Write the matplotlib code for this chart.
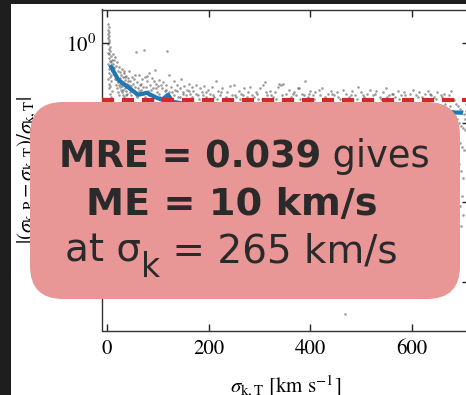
import matplotlib
matplotlib.use("Agg")
import matplotlib.pyplot as plt
import matplotlib.ticker as mticker
from matplotlib.patches import FancyBboxPatch, Rectangle
from matplotlib.transforms import IdentityTransform

# ---------------- data ----------------
# scatter points as (sigma_kT, relative error) pairs, grouped by region
pts_low_x = [
    (2, 1.75), (3, 1.6), (2, 1.48), (4, 1.38), (2, 1.3), (3, 1.22), (2, 1.15), (4, 1.08), (3, 1.02),
    (2, 0.96), (5, 0.9), (3, 0.85), (6, 0.8), (2, 0.76), (4, 0.72), (7, 0.68), (3, 0.64), (5, 0.6),
    (8, 0.57), (2, 0.54), (6, 0.5), (4, 0.47), (9, 0.45), (3, 0.42), (7, 0.4), (5, 0.37), (2, 0.35),
    (8, 0.33), (4, 0.31), (6, 0.29), (3, 0.27), (9, 0.25), (5, 0.23), (7, 0.21), (2, 0.2),
]
pts_rise = [
    (11, 0.72), (13, 0.62), (15, 0.66), (12, 0.55), (17, 0.52), (14, 0.48), (19, 0.58), (21, 0.45),
    (16, 0.42), (23, 0.5), (18, 0.38), (25, 0.43), (20, 0.35), (27, 0.4), (22, 0.32), (29, 0.47),
    (24, 0.3), (31, 0.37), (26, 0.28), (33, 0.42), (28, 0.26), (35, 0.34), (30, 0.24), (37, 0.39),
    (32, 0.22), (39, 0.31), (34, 0.21), (41, 0.36), (36, 0.27), (43, 0.44), (38, 0.25), (45, 0.33),
    (40, 0.23), (47, 0.29), (42, 0.2), (49, 0.38), (44, 0.27), (51, 0.31), (46, 0.24), (53, 0.35),
    (48, 0.22), (55, 0.28), (50, 0.26), (57, 0.77), (58, 0.32), (59, 0.21),
]
pts_mid = [
    (62, 0.4), (64, 0.3), (66, 0.26), (68, 0.35), (70, 0.23), (73, 0.82), (75, 0.37), (77, 0.28),
    (79, 0.33), (81, 0.25), (83, 0.42), (85, 0.3), (87, 0.22), (89, 0.36), (91, 0.27), (94, 0.46),
    (96, 0.31), (98, 0.24), (100, 0.29), (103, 0.34), (105, 0.21), (108, 0.27), (110, 0.32),
    (113, 0.25), (115, 0.3), (118, 0.79), (120, 0.22), (122, 0.4), (125, 0.28), (128, 0.24),
    (131, 0.33), (134, 0.26), (137, 0.3), (140, 0.21), (143, 0.27), (146, 0.35), (149, 0.24),
    (152, 0.29), (155, 0.22), (158, 0.26), (161, 0.31), (164, 0.23), (167, 0.28), (170, 0.25),
    (174, 0.3), (178, 0.22), (182, 0.27), (186, 0.24), (190, 0.29), (194, 0.21), (198, 0.26),
]
pts_flat = [
    (203, 0.23), (207, 0.28), (211, 0.21), (215, 0.33), (219, 0.25), (223, 0.22), (227, 0.27),
    (231, 0.2), (236, 0.24), (241, 0.29), (246, 0.22), (249, 0.3), (254, 0.21), (259, 0.25),
    (264, 0.23), (270, 0.27), (275, 0.21), (281, 0.28), (286, 0.22), (292, 0.24), (297, 0.2),
    (300, 0.27), (306, 0.3), (310, 0.32), (315, 0.22), (320, 0.25), (326, 0.21), (331, 0.24),
    (336, 0.28), (339, 0.31), (343, 0.3), (347, 0.31), (352, 0.23), (357, 0.26), (362, 0.21),
    (367, 0.24), (372, 0.22), (375, 0.27), (378, 0.27), (383, 0.23), (390, 0.335), (395, 0.21),
    (400, 0.25), (405, 0.22), (410, 0.24), (416, 0.26), (422, 0.27), (428, 0.21), (434, 0.23),
    (440, 0.25), (446, 0.22), (452, 0.24), (458, 0.2), (464, 0.26), (470, 0.23), (476, 0.21),
    (482, 0.25), (488, 0.22), (494, 0.28), (500, 0.24), (506, 0.21), (512, 0.23), (518, 0.26),
    (524, 0.22), (530, 0.25), (536, 0.21), (542, 0.24), (548, 0.27), (554, 0.22), (560, 0.23),
    (566, 0.21), (572, 0.25), (578, 0.22), (584, 0.24), (590, 0.2), (596, 0.23), (602, 0.26),
    (608, 0.22), (614, 0.24), (620, 0.21), (626, 0.23), (632, 0.25), (638, 0.22), (644, 0.21),
    (650, 0.24), (656, 0.22), (662, 0.23), (668, 0.2), (676, 0.25),
]
pts_dense = [
    (10, 0.62), (12, 0.5), (14, 0.41), (16, 0.35), (18, 0.3), (20, 0.27), (22, 0.24), (24, 0.22),
    (26, 0.36), (28, 0.31), (30, 0.29), (32, 0.26), (34, 0.45), (36, 0.38), (38, 0.22), (40, 0.28),
    (42, 0.33), (44, 0.3), (46, 0.2), (48, 0.26), (52, 0.24), (54, 0.4), (56, 0.22), (60, 0.27),
    (63, 0.25), (67, 0.31), (71, 0.28), (74, 0.21), (78, 0.39), (82, 0.22), (86, 0.26), (90, 0.2),
    (93, 0.33), (97, 0.27), (102, 0.23), (106, 0.3), (111, 0.21), (116, 0.26), (121, 0.24),
    (126, 0.2), (132, 0.22), (138, 0.25), (144, 0.21), (150, 0.23), (156, 0.2), (162, 0.25),
    (168, 0.21), (175, 0.23), (181, 0.2), (188, 0.22), (195, 0.24), (201, 0.2), (209, 0.22),
    (217, 0.2), (225, 0.24), (233, 0.21), (243, 0.2), (251, 0.22), (261, 0.2), (268, 0.22),
    (278, 0.24), (289, 0.21), (295, 0.23), (304, 0.2), (313, 0.24), (323, 0.22), (333, 0.2),
    (345, 0.22), (355, 0.2), (365, 0.23), (380, 0.2), (388, 0.22), (398, 0.23), (408, 0.2),
    (419, 0.22), (431, 0.2), (443, 0.23), (455, 0.21), (467, 0.2), (479, 0.22), (491, 0.2),
    (503, 0.22), (515, 0.2), (527, 0.23), (539, 0.2), (551, 0.21), (563, 0.23), (575, 0.2),
    (587, 0.22), (599, 0.2), (611, 0.21), (623, 0.2), (635, 0.23), (647, 0.2), (659, 0.21),
    (672, 0.22), (680, 0.2), (705, 0.2), (706, 0.17), (707, 0.14), (705, 0.11), (706, 0.1),
]
pts_high_x = [
    (664, 0.17), (670, 0.15), (674, 0.16), (678, 0.14),
    (682, 0.19), (686, 0.17), (690, 0.16), (694, 0.15), (698, 0.14), (702, 0.13), (684, 0.12),
    (688, 0.11), (692, 0.1), (696, 0.09), (700, 0.085), (704, 0.08), (683, 0.075), (687, 0.068),
    (691, 0.06), (695, 0.055), (699, 0.05), (703, 0.045), (685, 0.04), (689, 0.035), (693, 0.03),
    (697, 0.025), (701, 0.02), (690, 0.015), (698, 0.012), (694, 0.009), (700, 0.007), (696, 0.005),
    (469, 0.00039),
]
median_x = [6, 22, 41, 61, 78, 98, 108, 120, 129, 160, 220, 300, 400, 500, 600, 676, 700]
median_y = [0.53, 0.345, 0.28, 0.224, 0.237, 0.205, 0.194, 0.224, 0.183, 0.17, 0.16, 0.15,
            0.145, 0.14, 0.138, 0.135, 0.133]
threshold_y = 0.19
xticks = [0, 200, 400, 600]
yticks = [1e-3, 1e-2, 1e-1, 1e0]
xlabel = r"$\sigma_{\rm k,T}$ [km s$^{-1}$]"
ylabel = r"$|(\sigma_{\rm k,P}-\sigma_{\rm k,T})/\sigma_{\rm k,T}|$"
line1_bold = "MRE = 0.039"
line1_reg = " gives"
line2_bold = "ME = 10 km/s"
line3_a = "at σ"
line3_sub = "k"
line3_b = " = 265 km/s"

all_pts = pts_low_x + pts_rise + pts_mid + pts_flat + pts_dense + pts_high_x
scatter_x = [p[0] for p in all_pts]
scatter_y = [p[1] for p in all_pts]

# ---------------- figure ----------------
W, H, DPI = 466, 395, 100
plt.rcParams["mathtext.fontset"] = "stix"
plt.rcParams["font.family"] = ["STIXGeneral", "DejaVu Serif"]

fig = plt.figure(figsize=(W / DPI, H / DPI), dpi=DPI)
fig.patch.set_facecolor("white")

ax_l, ax_r, ax_t, ax_b = 102, 469, 9.5, 330.5
ax = fig.add_axes([ax_l / W, (H - ax_b) / H, (ax_r - ax_l) / W, (ax_b - ax_t) / H])

ax.scatter(scatter_x, scatter_y, s=3.5, color="#3a3a3a", alpha=0.5, linewidths=0, zorder=2)
ax.plot(median_x, median_y, color="#1f77b4", lw=3, zorder=3, solid_capstyle="butt")
ax.axhline(threshold_y, color="#d62728", lw=3, dashes=(2.9, 1.9), zorder=4)

ax.set_yscale("log")
ax.set_xlim(-10, 712)
ax.set_ylim(2.45e-4, 2.64)
ax.set_xticks(xticks)
ax.set_yticks(yticks)
ax.yaxis.set_minor_locator(mticker.NullLocator())
ax.xaxis.set_minor_locator(mticker.NullLocator())
ax.tick_params(which="both", direction="in", top=True, right=True, length=5, width=1,
               labelsize=15, color="#222222")
ax.tick_params(axis="x", pad=6)
ax.tick_params(axis="y", pad=4)
for sp in ax.spines.values():
    sp.set_linewidth(1.0)
    sp.set_color("#333333")

ax.set_xlabel(xlabel, fontsize=15, va="baseline")
ax.xaxis.set_label_coords(0.5, (ax_b - 392) / (ax_b - ax_t))
ax.set_ylabel(ylabel, fontsize=15, va="center")
ax.yaxis.set_label_coords((27 - ax_l) / (ax_r - ax_l), 0.5)

# dark frame strips
fig.add_artist(Rectangle((0, H - 4), W, 4, transform=IdentityTransform(),
                         facecolor="#1e1e1e", edgecolor="none", zorder=10))
fig.add_artist(Rectangle((0, 0), 11, H, transform=IdentityTransform(),
                         facecolor="#1e1e1e", edgecolor="none", zorder=10))

# pink annotation box
bx0, bx1, by_top, by_bot = 30, 460, 102, 299
box = FancyBboxPatch((bx0, H - by_bot), bx1 - bx0, by_bot - by_top,
                     boxstyle="round,pad=0,rounding_size=33",
                     transform=IdentityTransform(), facecolor="#e89696",
                     edgecolor="none", zorder=5)
fig.add_artist(box)

renderer = fig.canvas.get_renderer()
tfont = ["DejaVu Sans"]
tcol = "#2a2a2a"


def put_line(pieces, cx, base, fs):
    """pieces: list of (text, weight, size_scale, dy)"""
    arts = []
    for txt, wt, sc, dy in pieces:
        t = fig.text(0, 0, txt, fontsize=fs * sc, fontweight=wt, family=tfont, color=tcol,
                     transform=IdentityTransform(), ha="left", va="baseline", zorder=6)
        arts.append((t, dy))
    widths = [t.get_window_extent(renderer).width for t, _ in arts]
    x = cx - sum(widths) / 2
    for (t, dy), w in zip(arts, widths):
        t.set_position((x, H - base + dy))
        x += w


put_line([(line1_bold, "bold", 1, 0), (line1_reg, "normal", 1, 0)], 244.5, 167, 26.5)
put_line([(line2_bold, "bold", 1, 0)], 232, 215, 27.5)
put_line([(line3_a, "normal", 1, 0), (line3_sub, "normal", 0.85, -15),
          (line3_b, "normal", 1, 0)], 231, 262, 28)

fig.savefig("out.png", dpi=DPI)
